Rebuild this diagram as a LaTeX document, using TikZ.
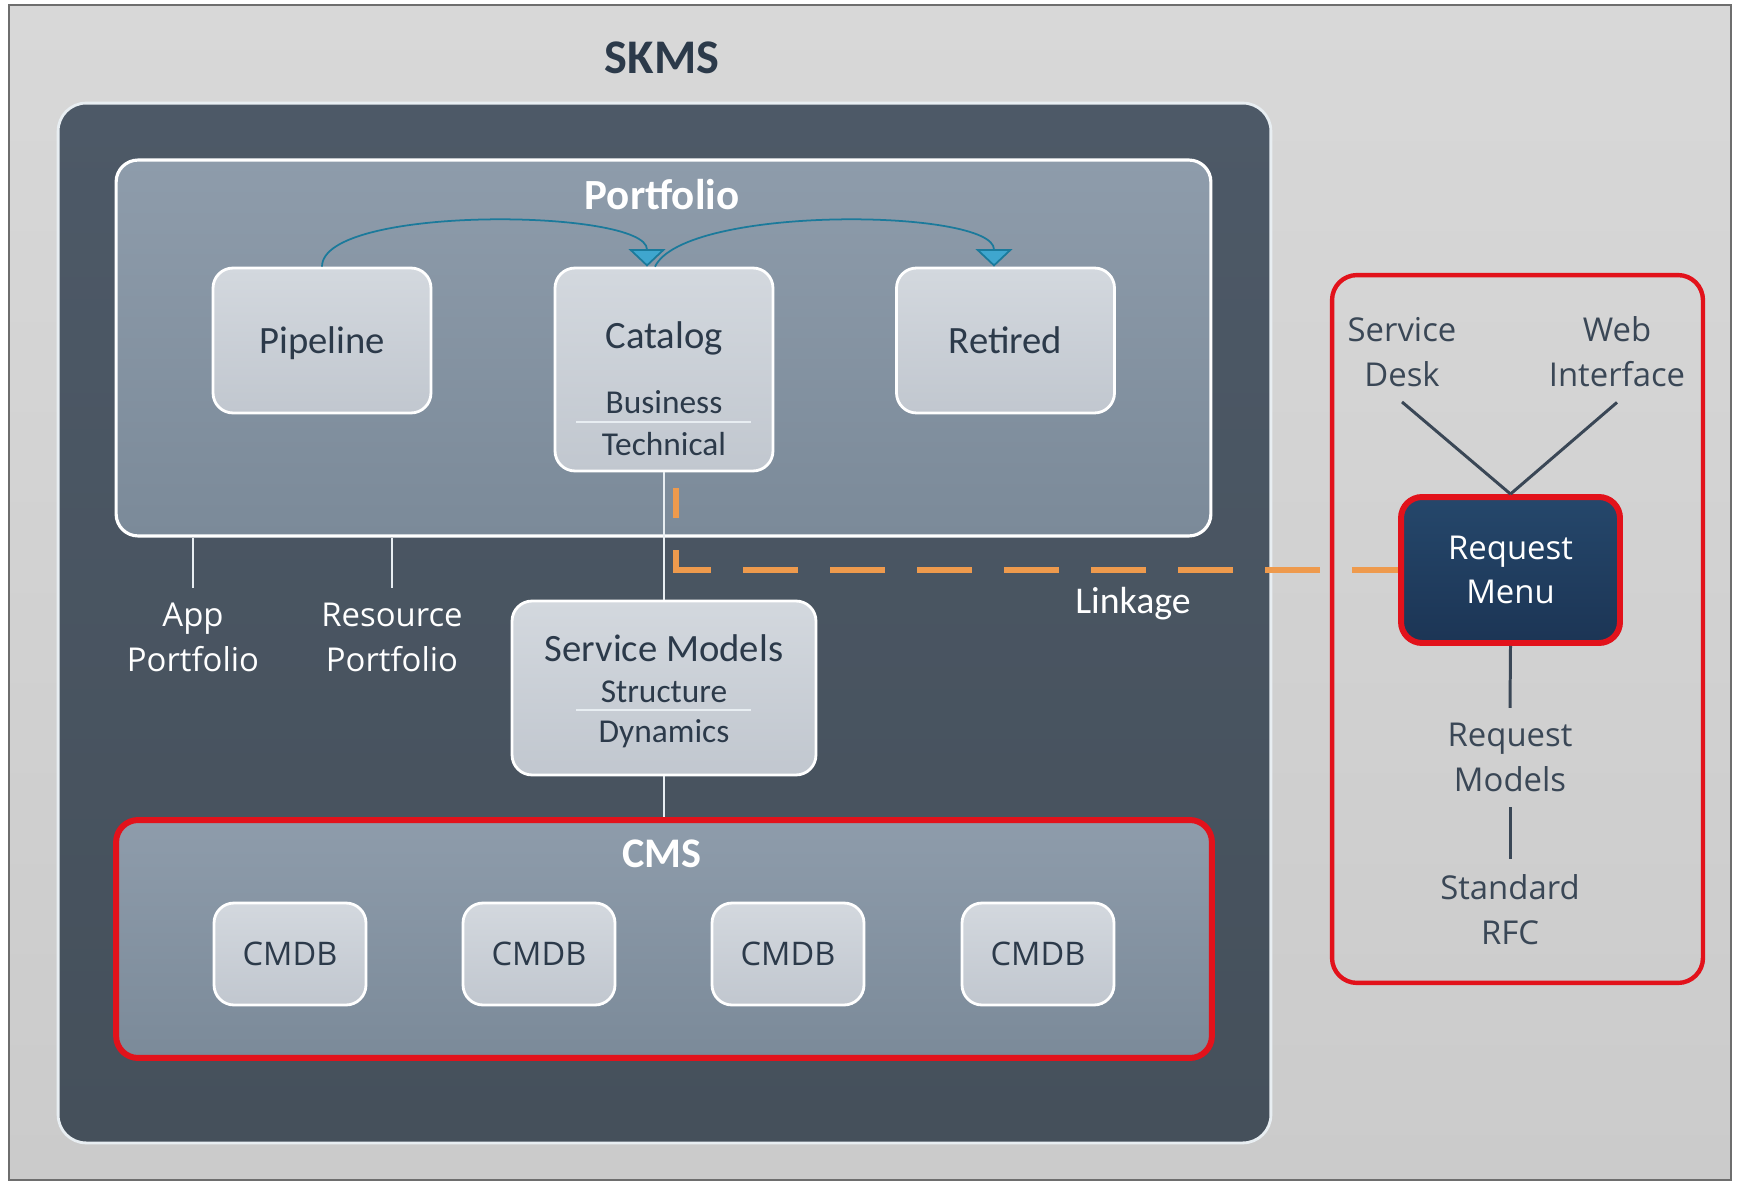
\documentclass[tikz,border=0pt]{standalone}
\usepackage{fontspec}
\setmainfont{Carlito}
\newfontfamily\osans{Open Sans}
\usetikzlibrary{calc,positioning,arrows.meta}

\definecolor{pagehi}{HTML}{D8D8D8}
\definecolor{pagelo}{HTML}{CBCBCB}
\definecolor{framegray}{HTML}{6E6E6E}
\definecolor{skmshi}{HTML}{4D5967}
\definecolor{skmslo}{HTML}{45505B}
\definecolor{edgewhite}{HTML}{E8EEF2}
\definecolor{panelhi}{HTML}{8E9CAB}
\definecolor{panello}{HTML}{7B8A99}
\definecolor{boxhi}{HTML}{D3D8DE}
\definecolor{boxlo}{HTML}{C1C7CF}
\definecolor{txtdark}{HTML}{2C3A4A}
\definecolor{reqred}{HTML}{E2121B}
\definecolor{menuhi}{HTML}{25476B}
\definecolor{menulo}{HTML}{1C3555}
\definecolor{linkorange}{HTML}{EE9A4D}
\definecolor{flowteal}{HTML}{1B7A9B}
\definecolor{flowfill}{HTML}{3FA6CE}
\definecolor{rtext}{HTML}{3A4756}

\begin{document}
\begin{tikzpicture}[x=0.02cm,y=-0.02cm,
    every node/.style={inner sep=0pt},
    panel/.style={draw=#1, line width=1.8pt, rounded corners=0.44cm,
      top color=panelhi, bottom color=panello},
    innerbox/.style={draw=white, line width=1.6pt, rounded corners=0.4cm,
      top color=boxhi, bottom color=boxlo, text=txtdark, text depth=0pt,
      font=\fontsize{22}{26}\selectfont, minimum width=4.36cm, minimum height=2.9cm},
    subtext/.style={text=txtdark, font=\fontsize{19}{22}\selectfont},
    heading/.style={text=white, font=\bfseries\fontsize{24.5}{28}\selectfont},
    lbl/.style={align=center, inner sep=0.3cm, font=\osans\fontsize{18.7}{25.5}\selectfont},
    wline/.style={draw=edgewhite, line width=1.2pt},
    rline/.style={draw=rtext, line width=1.7pt},
    flow/.style={draw=flowteal, line width=1pt,
      -{Triangle[width=21pt,length=10pt,fill=flowfill]}},
    linkline/.style={draw=linkorange, line width=3.4pt,
      dash pattern=on 1.1cm off 0.64cm, dash phase=0.5cm}
  ]
  % page
  \fill[white] (0,0) rectangle (1737,1182);
  \useasboundingbox (0,0) rectangle (1737,1182);
  \node[draw=framegray, line width=1.2pt, top color=pagehi, bottom color=pagelo,
    minimum width=34.44cm, minimum height=23.5cm] (page) at (870,592.5) {};

  % SKMS container
  \node[draw=edgewhite, line width=1.6pt, rounded corners=0.56cm,
    top color=skmshi, bottom color=skmslo,
    minimum width=24.26cm, minimum height=20.8cm] (skms) at (664.5,623) {};
  \node[text=txtdark, font=\bfseries\fontsize{27.5}{30}\selectfont] (skmstitle) at (662,58) {SKMS};

  % portfolio
  \node[panel=white, minimum width=21.9cm, minimum height=7.52cm] (portfolio) at (663.5,348) {};
  \node[heading] (portfoliotitle) at (662,195) {Portfolio};
  \node[innerbox] (pipeline) at (322,340.5) {Pipeline};
  \node[innerbox, minimum height=4.06cm] (catalog) at (664,369.5) {};
  \node[innerbox] (retired) at (1005.5,340.5) {Retired};
  \node[text=txtdark, font=\fontsize{22}{26}\selectfont] at (664,338) {Catalog};
  \node[subtext] at (664,402) {Business};
  \node[subtext] at (664,444) {Technical};
  \draw[wline] (576,422) -- (751,422);

  \draw[flow] (pipeline.north) .. controls +(0,-62) and +(0,-58) .. ([xshift=-0.34cm]catalog.north);
  \draw[flow] ([xshift=-0.18cm]catalog.north) .. controls +(30,-62) and +(0,-58) .. ([xshift=-0.23cm]retired.north);

  % portfolio offshoots
  \node[lbl, text=white] (app) at (193,637.5) {App\\Portfolio};
  \node[lbl, text=white] (resource) at (392,637.5) {Resource\\Portfolio};
  \draw[wline] (portfolio.south -| app.north) -- (app.north);
  \draw[wline] (portfolio.south -| resource.north) -- (resource.north);

  % service models
  \node[innerbox, minimum width=6.08cm, minimum height=3.48cm] (service) at (664,688) {};
  \node[text=txtdark, font=\fontsize{22}{26}\selectfont] at (664,648) {Service Models};
  \node[subtext] at (664,692) {Structure};
  \node[subtext] at (664,734) {Dynamics};
  \draw[wline] (576,710) -- (751,710);

  % CMS
  \node[panel=reqred, line width=3.4pt, minimum width=21.92cm, minimum height=4.76cm] (cms) at (664,939) {};
  \node[heading, font=\bfseries\fontsize{24}{28}\selectfont] (cmstitle) at (662,854) {CMS};
  \foreach \i/\x in {1/290,2/539,3/788,4/1038}
    \node[innerbox, font=\osans\fontsize{18.5}{22}\selectfont,
      minimum width=3.04cm, minimum height=2.04cm] (cmdb\i) at (\x,954) {CMDB};

  \draw[wline] (catalog.south) -- (service.north);
  \draw[wline] (service.south) -- (cms.north);

  % request side
  \node[draw=reqred, line width=2.5pt, rounded corners=0.5cm,
    minimum width=7.42cm, minimum height=14.16cm] (reqframe) at (1517.5,629) {};
  \node[draw=reqred, line width=3.4pt, rounded corners=0.42cm,
    top color=menuhi, bottom color=menulo, text=white, align=center,
    font=\osans\fontsize{18.7}{25.5}\selectfont,
    minimum width=4.38cm, minimum height=2.92cm] (menu) at (1510.5,570) {Request\\Menu};
  \node[lbl, text=rtext] (desk) at (1402,352) {Service\\Desk};
  \node[lbl, text=rtext] (web) at (1617,352) {Web\\Interface};
  \node[lbl, text=rtext] (models) at (1510,757.5) {Request\\Models};
  \node[lbl, text=rtext] (rfc) at (1510,909.5) {Standard\\RFC};
  \draw[rline] (desk.south) -- (menu.north);
  \draw[rline] (web.south) -- (menu.north);
  \draw[rline] (menu.south) -- (models.north);
  \draw[rline] (models.south) -- (rfc.north);

  % linkage
  \draw[linkline] ([xshift=0.24cm,yshift=-0.32cm]catalog.south) |- (menu.west);
  \node[text=white, font=\fontsize{21.5}{24}\selectfont] (linkage) at (1133,604) {Linkage};
\end{tikzpicture}
\end{document}
